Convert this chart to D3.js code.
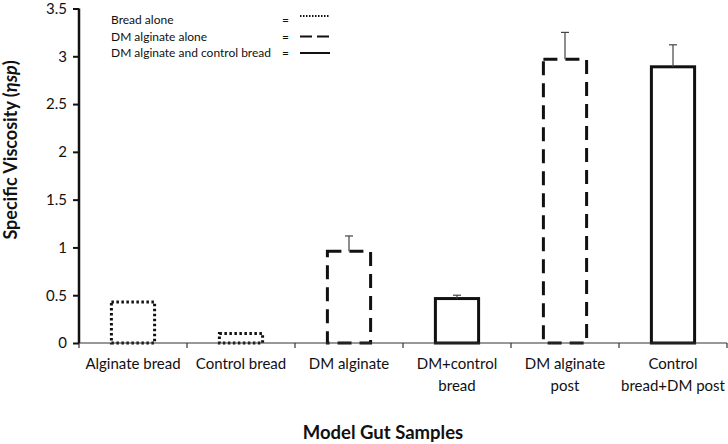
<!DOCTYPE html>
<html lang="en">
<head>
<meta charset="UTF-8">
<title>Specific viscosity of model gut samples</title>
<script src="https://d3js.org/d3.v7.min.js"></script>
<style>
    body { margin: 0; background: #fff; }
    svg { display: block; font-family: Lato, "Open Sans", sans-serif; }
</style>
</head>
<body>
<div id="chart"></div>
<script>
    // data
    const categories = ["Alginate bread", "Control bread", "DM alginate",
        "DM+control\nbread", "DM alginate\npost", "Control\nbread+DM post"];
    const values = [0.43, 0.10, 0.96, 0.465, 2.97, 2.89];
    const errors = [0, 0, 0.16, 0.035, 0.28, 0.23];
    const groups = ["Bread alone", "Bread alone", "DM alginate alone",
        "DM alginate and control bread", "DM alginate alone", "DM alginate and control bread"];
    const legendLabels = ["Bread alone", "DM alginate alone", "DM alginate and control bread"];
    const yTicks = [0, 0.5, 1, 1.5, 2, 2.5, 3, 3.5];

    const width = 728, height = 444;
    const margin = { top: 8.5, right: 1, bottom: 101, left: 79 };

    // line style per group
    const dash = d3.scaleOrdinal()
        .domain(legendLabels)
        .range(["2.5,2.5", "14,8", null]);
    const legendDash = d3.scaleOrdinal()
        .domain(legendLabels)
        .range(["1.5,1.5", "12,5", null]);

    const svg = d3.select("#chart").append("svg")
        .attr("width", width)
        .attr("height", height);

    const x = d3.scaleBand()
        .domain(categories)
        .range([margin.left, width - margin.right])
        .paddingInner(0.6)
        .paddingOuter(0.3);

    const y = d3.scaleLinear()
        .domain([0, 3.5])
        .range([height - margin.bottom, margin.top]);

    // bars
    svg.append("g").selectAll("rect")
        .data(categories)
        .join("rect")
        .attr("x", d => x(d))
        .attr("y", (d, i) => y(values[i]))
        .attr("width", x.bandwidth())
        .attr("height", (d, i) => y(0) - y(values[i]))
        .attr("fill", "none")
        .attr("stroke", "#111")
        .attr("stroke-width", 3)
        .attr("stroke-dasharray", (d, i) => dash(groups[i]));

    // error bars (upper only)
    const err = svg.append("g")
        .attr("stroke", "#444")
        .attr("stroke-width", 1.2);
    categories.forEach((c, i) => {
        if (!errors[i]) return;
        const cx = x(c) + x.bandwidth() / 2;
        err.append("line")
            .attr("x1", cx).attr("x2", cx)
            .attr("y1", y(values[i]))
            .attr("y2", y(values[i] + errors[i]));
        err.append("line")
            .attr("x1", cx - 4).attr("x2", cx + 4)
            .attr("y1", y(values[i] + errors[i]))
            .attr("y2", y(values[i] + errors[i]));
    });

    // x axis: thin line, ticks at band edges
    const xAxis = svg.append("g")
        .attr("transform", `translate(0,${y(0)})`);
    xAxis.append("line")
        .attr("x1", margin.left).attr("x2", width - margin.right)
        .attr("stroke", "#333").attr("stroke-width", 1.2);
    const step = x.step();
    const edges = d3.range(categories.length + 1).map(i => margin.left + i * step);
    xAxis.selectAll(".edge")
        .data(edges)
        .join("line")
        .attr("x1", d => d).attr("x2", d => d)
        .attr("y1", 0).attr("y2", 5)
        .attr("stroke", "#333").attr("stroke-width", 1.2);

    const xl = xAxis.selectAll(".lbl")
        .data(categories)
        .join("text")
        .attr("text-anchor", "middle")
        .attr("font-size", 15)
        .attr("fill", "#111");
    xl.each(function (d) {
        const t = d3.select(this);
        d.split("\n").forEach((line, k) => {
            t.append("tspan")
                .attr("x", x(d) + x.bandwidth() / 2)
                .attr("y", 26 + k * 22)
                .text(line);
        });
    });

    // y axis: thick line
    const yAxis = svg.append("g")
        .attr("transform", `translate(${margin.left},0)`)
        .call(d3.axisLeft(y).tickValues(yTicks).tickSize(6).tickPadding(6)
            .tickFormat(d3.format("")));
    yAxis.select(".domain").attr("stroke", "#111").attr("stroke-width", 2.5)
        .attr("d", `M0,${y(3.5)}V${y(0)}`);
    yAxis.selectAll(".tick line").attr("stroke", "#111").attr("stroke-width", 2);
    yAxis.selectAll(".tick text").attr("font-size", 15).attr("fill", "#111")
        .attr("font-family", "Lato, 'Open Sans', sans-serif");

    // axis titles
    svg.append("text")
        .attr("x", 383).attr("y", 439)
        .attr("text-anchor", "middle")
        .attr("font-size", 18.5).attr("font-weight", "bold")
        .attr("fill", "#111")
        .text("Model Gut Samples");

    const yt = svg.append("text")
        .attr("transform", "translate(17,150) rotate(-90)")
        .attr("text-anchor", "middle")
        .attr("font-size", 18).attr("font-weight", "bold")
        .attr("fill", "#111");
    yt.append("tspan").text("Specific Viscosity (");
    yt.append("tspan").attr("font-style", "italic").text("ηsp");
    yt.append("tspan").text(")");

    // legend
    const legend = svg.append("g").attr("font-size", 12).attr("fill", "#111");
    legendLabels.forEach((lab, i) => {
        const ly = 20 + i * 16.5;
        legend.append("text").attr("x", 111).attr("y", ly + 4).text(lab);
        legend.append("text").attr("x", 282).attr("y", ly + 4).text("=");
        legend.append("line")
            .attr("x1", 300).attr("x2", 330)
            .attr("y1", i === 0 ? ly - 4 : ly).attr("y2", i === 0 ? ly - 4 : ly)
            .attr("stroke", "#111").attr("stroke-width", 2)
            .attr("stroke-dasharray", legendDash(lab));
    });
</script>
</body>
</html>
